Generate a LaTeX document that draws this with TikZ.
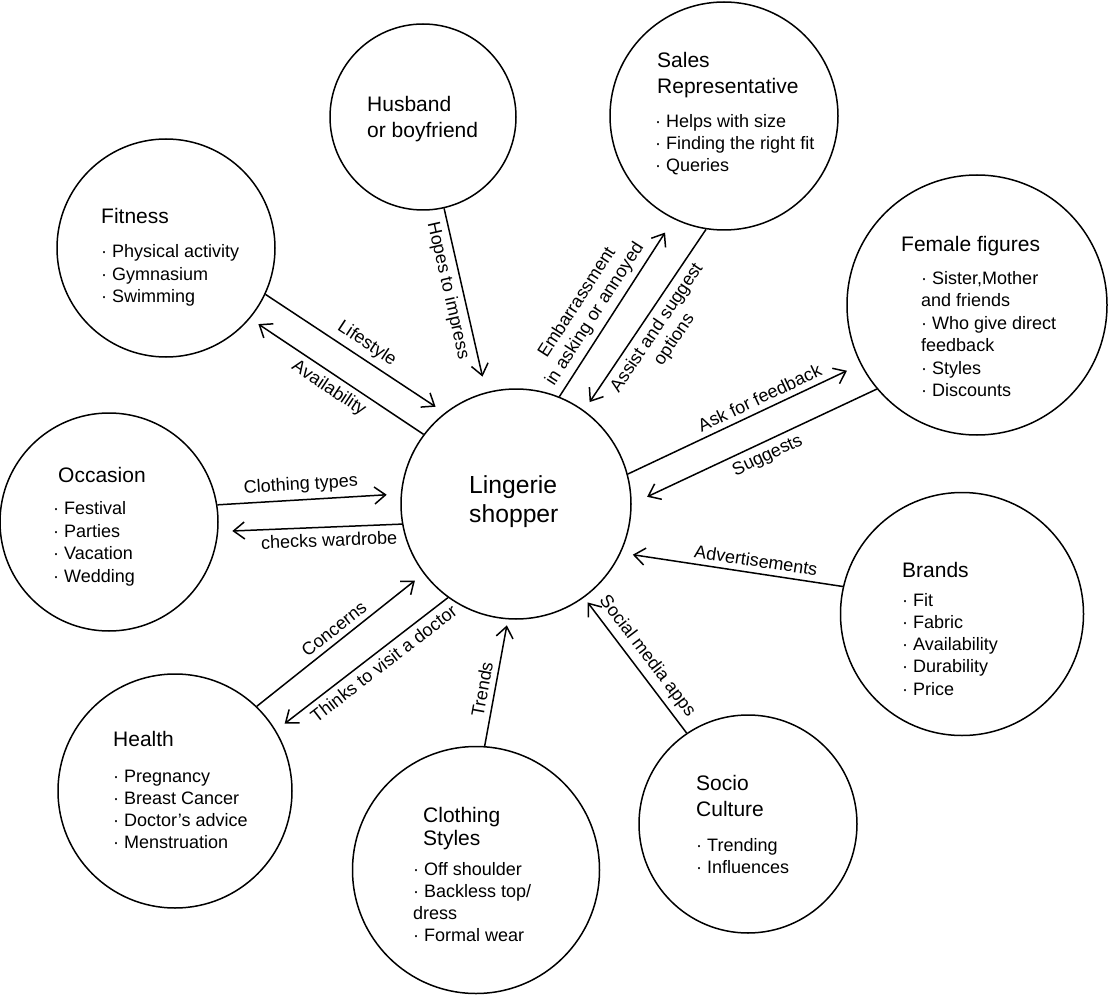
\documentclass[tikz,border=0pt]{standalone}
\usepackage{fontspec}
\setmainfont{Liberation Sans}
\usetikzlibrary{positioning, arrows.meta}

\tikzset{
  bubble/.style={draw, circle, line width=1.5pt, inner sep=0pt},
  big/.style={anchor=base west, inner sep=0pt, font=\fontsize{24.7}{29}\selectfont},
  head/.style={anchor=base west, inner sep=0pt, font=\fontsize{21}{26}\selectfont},
  item/.style={anchor=base west, inner sep=0pt, font=\fontsize{18}{22}\selectfont},
  link/.style={line width=1.5pt, -{Straight Barb[length=11pt,width=17pt]}},
  lbl/.style={sloped, inner sep=5.5pt, align=center, font=\fontsize{18}{21}\selectfont},
}

\begin{document}
\begin{tikzpicture}[x=1pt, y=-1pt]
\useasboundingbox (0,0) rectangle (1109,995);

% circles
\node[bubble, minimum size=230pt] (shop) at (516,504) {};
\node[bubble, minimum size=186pt] (husb) at (423,117) {};
\node[bubble, minimum size=228pt] (sales) at (724,116) {};
\node[bubble, minimum size=260pt] (fem) at (977,305) {};
\node[bubble, minimum size=243pt] (brand) at (962,614) {};
\node[bubble, minimum size=218pt] (socio) at (748,824) {};
\node[bubble, minimum size=247pt] (cloth) at (476,870) {};
\node[bubble, minimum size=234pt] (health) at (175,791) {};
\node[bubble, minimum size=218pt] (occ) at (109,522) {};
\node[bubble, minimum size=218pt] (fit) at (166,248) {};

% texts in the circles
\foreach \s [count=\i] in {Lingerie, shopper}
  \node[big] (shop-\i) at (469, 464+29*\i) {\s};
\foreach \s [count=\i] in {Husband, or boyfriend}
  \node[head] (husb-\i) at (367, 86+26*\i) {\s};
\foreach \s [count=\i] in {Sales, Representative}
  \node[head] (sales-h\i) at (657, 42+26*\i) {\s};
\foreach \s [count=\i] in {· Helps with size, · Finding the right fit, · Queries}
  \node[item] (sales-\i) at (655, 106+22*\i) {\s};
\node[head] (fem-h) at (901,252) {Female figures};
\foreach \s [count=\i] in {{· Sister,Mother}, and friends, · Who give direct, feedback, · Styles, · Discounts}
  \node[item] (fem-\i) at (921, 262+22.4*\i) {\s};
\node[head] (brand-h) at (902,577) {Brands};
\foreach \s [count=\i] in {· Fit, · Fabric, · Availability, · Durability, · Price}
  \node[item] (brand-\i) at (902, 584+22.2*\i) {\s};
\foreach \s [count=\i] in {Socio, Culture}
  \node[head] (socio-h\i) at (696, 764+26*\i) {\s};
\foreach \s [count=\i] in {· Trending, · Influences}
  \node[item] (socio-\i) at (696, 830+21.5*\i) {\s};
\foreach \s [count=\i] in {Clothing, Styles}
  \node[head] (cloth-h\i) at (423, 799+23*\i) {\s};
\foreach \s [count=\i] in {· Off shoulder, · Backless top/, dress, · Formal wear}
  \node[item] (cloth-\i) at (413, 853+22*\i) {\s};
\node[head] (health-h) at (113,746) {Health};
\foreach \s [count=\i] in {· Pregnancy, · Breast Cancer, · Doctor’s advice, · Menstruation}
  \node[item] (health-\i) at (113, 760+22*\i) {\s};
\node[head] (occ-h) at (58,482) {Occasion};
\foreach \s [count=\i] in {· Festival, · Parties, · Vacation, · Wedding}
  \node[item] (occ-\i) at (53, 492+22.5*\i) {\s};
\node[head] (fit-h) at (101,223.5) {Fitness};
\foreach \s [count=\i] in {· Physical activity, · Gymnasium, · Swimming}
  \node[item] (fit-\i) at (101, 235.5+22.3*\i) {\s};

% connectors
\draw[link, shorten >=16pt] (husb.-77.6) -- node[lbl, pos=.43, below] (l-hopes) {Hopes to impress} (shop.105.3);
\draw[link, shorten >=16pt] (shop.68) -- node[lbl, pos=.42, above] (l-emb) {Embarrassment\\in asking or annoyed} (sales.-116.1);
\draw[link, shorten >=10pt] (sales.-99) -- node[lbl, pos=.5, below] (l-assist) {Assist and suggest\\options} (shop.54.4);
\draw[link, shorten >=15pt] (shop.15.3) -- node[lbl, pos=.59, above] (l-ask) {Ask for feedback} (fem.-153.3);
\draw[link, shorten >=17pt] (fem.-140.3) -- node[lbl, pos=.47, below] (l-sugg) {Suggests} (shop.0.9);
\draw[link, shorten >=12pt] (brand.167.2) -- node[lbl, pos=.4, above] (l-adv) {Advertisements} (shop.-25.3);
\draw[link, shorten >=6pt] (socio.124.6) -- node[lbl, pos=.5, above] (l-social) {Social media apps} (shop.-54.1);
\draw[link, shorten >=6pt] (cloth.86.8) -- node[lbl, pos=.43, above] (l-trends) {Trends} (shop.-94.9);
\draw[link, shorten >=11pt] (health.46.5) -- node[lbl, pos=.51, above] (l-conc) {Concerns} (shop.-143.1);
\draw[link, shorten >=11pt] (shop.-126.6) -- node[lbl, pos=.42, below] (l-doctor) {Thinks to visit a doctor} (health.31.4);
\draw[link, shorten >=14pt] (occ.9.5) -- node[lbl, pos=.46, above] (l-types) {Clothing types} (shop.175.1);
\draw[link, shorten >=14pt] (shop.-170.5) -- node[lbl, pos=.4, below] (l-ward) {checks wardrobe} (occ.-5.6);
\draw[link, shorten >=11pt] (fit.-25.4) -- node[lbl, pos=.52, above] (l-life) {Lifestyle} (shop.128.6);
\draw[link, shorten >=10pt] (shop.143.3) -- node[lbl, pos=.5, below] (l-avail) {Availability} (fit.-40.8);
\end{tikzpicture}
\end{document}
